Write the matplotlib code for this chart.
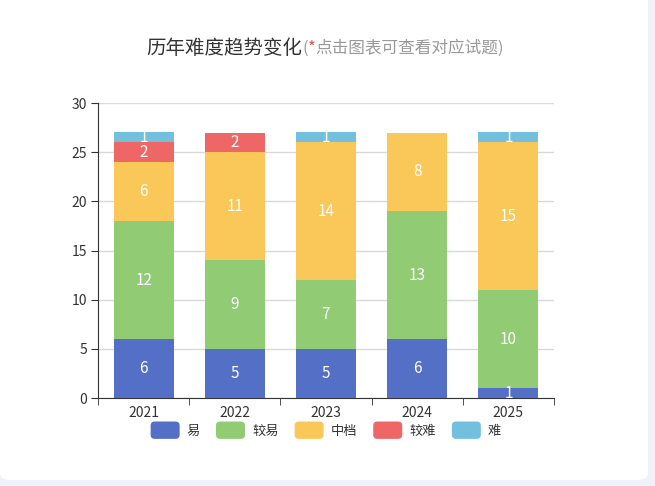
import matplotlib
matplotlib.use("Agg")
import matplotlib.pyplot as plt
from matplotlib.patches import FancyBboxPatch, Patch
from matplotlib.legend_handler import HandlerBase
import numpy as np

plt.rcParams['font.family'] = ['Noto Sans CJK SC', 'DejaVu Sans']

years = ['2021', '2022', '2023', '2024', '2025']
categories = ['易', '较易', '中档', '较难', '难']
v_easy = [6, 5, 5, 6, 1]
v_fairly_easy = [12, 9, 7, 13, 10]
v_medium = [6, 11, 14, 8, 15]
v_fairly_hard = [2, 2, 0, 0, 0]
v_hard = [1, 0, 1, 0, 1]
series = [v_easy, v_fairly_easy, v_medium, v_fairly_hard, v_hard]
colors = ['#5470c6', '#91cc75', '#fac858', '#ee6666', '#73c0de']
yticks = [0, 5, 10, 15, 20, 25, 30]

W, H = 655, 486
fig = plt.figure(figsize=(W / 100, H / 100), dpi=100)
fig.patch.set_facecolor('#eef2fb')
card = FancyBboxPatch((0 / W, 6 / H), 648 / W, 500 / H,
                      boxstyle="round,pad=0,rounding_size=0.015",
                      transform=fig.transFigure, facecolor='white',
                      edgecolor='none', zorder=-5)
fig.patches.append(card)

ax = fig.add_axes([98 / W, 1 - 398 / H, (554 - 98) / W, (398 - 103) / H])
ax.set_facecolor('none')
ax.set_zorder(2)
x = np.arange(len(years))
bottom = np.zeros(len(years))
bw = 0.66
for vals, c, name in zip(series, colors, categories):
    vals = np.array(vals, dtype=float)
    ax.bar(x, vals, bw, bottom=bottom, color=c, label=name, zorder=3)
    for xi, v, b in zip(x, vals, bottom):
        if v > 0:
            ax.text(xi, b + v / 2, f'{int(v)}', ha='center', va='center',
                    color='white', fontsize=11, zorder=4)
    bottom += vals

ax.set_xlim(-0.5, len(years) - 0.5)
ax.set_ylim(0, 30)
ax.set_yticks(yticks)
ax.set_yticklabels([str(t) for t in yticks])
ax.set_xticks(x)
ax.set_xticklabels(years)
ax.tick_params(axis='x', length=0, labelsize=10, colors='#333333', pad=6)
ax.set_xticks(np.arange(len(years) + 1) - 0.5, minor=True)
ax.tick_params(axis='x', which='minor', length=5, direction='out', color='#333333')
ax.tick_params(axis='y', length=5, direction='out', labelsize=10, colors='#333333', pad=3)
ax.yaxis.grid(True, color='#d9d9d9', linewidth=1, zorder=0)
ax.set_axisbelow(True)
for s in ['top', 'right']:
    ax.spines[s].set_visible(False)
ax.spines['left'].set_color('#333333')
ax.spines['bottom'].set_color('#333333')

# Title pieces
fig.canvas.draw()
r = fig.canvas.get_renderer()
pieces = [('历年难度趋势变化', '#333333', 14), ('(', '#999999', 12),
          ('*', '#e05050', 12), ('点击图表可查看对应试题)', '#999999', 12)]
ty = 1 - 48 / H
texts = []
for s, c, fs in pieces:
    t = fig.text(0, ty, s, color=c, fontsize=fs, ha='left', va='center')
    texts.append(t)
widths = [t.get_window_extent(r).width / W for t in texts]
total = sum(widths)
cx = 325 / W - total / 2
for t, w in zip(texts, widths):
    t.set_x(cx)
    cx += w


class RoundHandler(HandlerBase):
    def create_artists(self, legend, orig_handle, xdescent, ydescent, width,
                       height, fontsize, trans):
        p = FancyBboxPatch((-xdescent, -ydescent - 2), width, height + 4,
                           boxstyle="round,pad=0,rounding_size=3",
                           facecolor=orig_handle.get_facecolor(),
                           edgecolor='none', transform=trans)
        return [p]


handles = [Patch(facecolor=c) for c in colors]
leg = fig.legend(handles, categories, loc='center',
                 bbox_to_anchor=(326 / W, 1 - 431 / H), ncol=5,
                 frameon=False, fontsize=9.5, handlelength=2.2, handleheight=1.0,
                 columnspacing=1.2, handletextpad=0.55, borderpad=0,
                 handler_map={Patch: RoundHandler()})
for t in leg.get_texts():
    t.set_color('#333333')

fig.savefig('out.png', dpi=100, facecolor=fig.get_facecolor())
